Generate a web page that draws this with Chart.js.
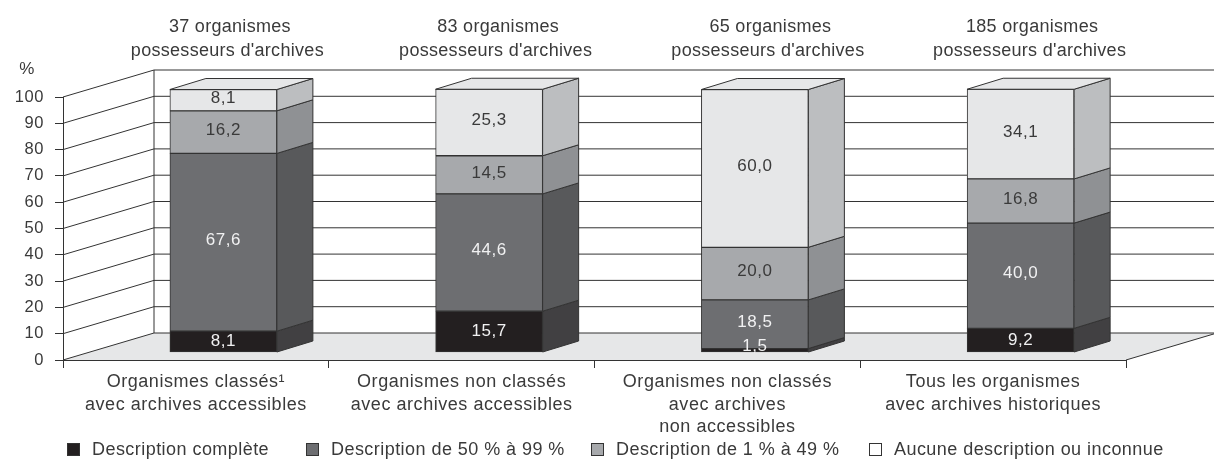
<!DOCTYPE html>
<html>
<head>
<meta charset="utf-8">
<script src="https://cdn.jsdelivr.net/npm/chart.js@4"></script>
<style>
    html, body { margin: 0; padding: 0; background: #fff; }
    canvas { display: block; }
</style>
</head>
<body>
<canvas id="archivesChart" width="1214" height="459"></canvas>
<script>
var categories = [
    ['Organismes classés¹', 'avec archives accessibles'],
    ['Organismes non classés', 'avec archives accessibles'],
    ['Organismes non classés', 'avec archives', 'non accessibles'],
    ['Tous les organismes', 'avec archives historiques']
];
var topLabels = ['37 organismes', '83 organismes', '65 organismes', '185 organismes'];
var topLabelLine2 = "possesseurs d'archives";
var complete = [8.1, 15.7, 1.5, 9.2];
var from50to99 = [67.6, 44.6, 18.5, 40.0];
var from1to49 = [16.2, 14.5, 20.0, 16.8];
var none = [8.1, 25.3, 60.0, 34.1];

var seriesNames = ['Description complète', 'Description de 50 % à 99 %', 'Description de 1 % à 49 %', 'Aucune description ou inconnue'];
var frontColors = ['#231f20', '#6d6e71', '#a7a9ac', '#e6e7e8'];
var sideColors = ['#414042', '#58595b', '#8f9194', '#bcbec0'];
var labelColors = ['#f1f1f2', '#f1f1f2', '#3a3a3a', '#3a3a3a'];
var legendFill = ['#231f20', '#6d6e71', '#a7a9ac', '#fff'];
var legendX = [67, 306, 591, 869];

var FAMILY = '"Liberation Sans", Arial, sans-serif';
var INK = '#333';
var TEXT = '#3a3a3a';

// the box sits this far in front of the back wall
var WALL_DX = 91, WALL_DY = -27;
var BAR_DX = 27.5, BAR_DY = -7.5;
var SIDE_DX = 36, SIDE_DY = -11;
// the captions above the bars are not evenly spaced in the source
var TOP_NUDGE = [4, 6.5, 13, 9];

var box3d = {
    id: 'box3d',
    // walls and floor
    beforeDraw: function (chart) {
        var ctx = chart.ctx, y = chart.scales.y, area = chart.chartArea;
        var x0 = area.left, x1 = area.right, yb = area.bottom;
        ctx.save();
        ctx.fillStyle = '#e6e7e8';
        ctx.beginPath();
        ctx.moveTo(x0, yb);
        ctx.lineTo(x1, yb);
        ctx.lineTo(x1 + WALL_DX, yb + WALL_DY);
        ctx.lineTo(x0 + WALL_DX, yb + WALL_DY);
        ctx.closePath();
        ctx.fill();

        ctx.strokeStyle = INK;
        ctx.lineWidth = 1;
        y.ticks.forEach(function (t) {
            var py = y.getPixelForValue(t.value);
            ctx.beginPath();
            ctx.moveTo(x0, py);
            ctx.lineTo(x0 + WALL_DX, py + WALL_DY);
            ctx.lineTo(1214, py + WALL_DY);
            ctx.stroke();
        });
        ctx.beginPath();
        ctx.moveTo(x0 + WALL_DX, yb + WALL_DY);
        ctx.lineTo(x0 + WALL_DX, area.top + WALL_DY);
        ctx.moveTo(x1, yb);
        ctx.lineTo(x1 + WALL_DX, yb + WALL_DY);
        ctx.stroke();
        ctx.restore();
        // axis labels inherit this, the reference type is set wide
        ctx.letterSpacing = '0.55px';
    },
    beforeDatasetsDraw: function (chart) {
        chart.ctx.save();
        chart.ctx.translate(BAR_DX, BAR_DY);
    },
    afterDatasetsDraw: function (chart) {
        var ctx = chart.ctx;
        var last = chart.data.datasets.length - 1;
        ctx.strokeStyle = INK;
        ctx.lineWidth = 1;
        chart.data.datasets.forEach(function (ds, i) {
            chart.getDatasetMeta(i).data.forEach(function (bar) {
                var right = bar.x + bar.width / 2, left = bar.x - bar.width / 2;
                ctx.fillStyle = sideColors[i];
                ctx.beginPath();
                ctx.moveTo(right, bar.y);
                ctx.lineTo(right + SIDE_DX, bar.y + SIDE_DY);
                ctx.lineTo(right + SIDE_DX, bar.base + SIDE_DY);
                ctx.lineTo(right, bar.base);
                ctx.closePath();
                ctx.fill();
                ctx.stroke();
                if (i === last) {
                    ctx.fillStyle = '#e6e7e8';
                    ctx.beginPath();
                    ctx.moveTo(left, bar.y);
                    ctx.lineTo(left + SIDE_DX, bar.y + SIDE_DY);
                    ctx.lineTo(right + SIDE_DX, bar.y + SIDE_DY);
                    ctx.lineTo(right, bar.y);
                    ctx.closePath();
                    ctx.fill();
                    ctx.stroke();
                }
            });
        });

        // values on the front faces
        ctx.font = '17px ' + FAMILY;
        ctx.textAlign = 'center';
        ctx.textBaseline = 'middle';
        chart.data.datasets.forEach(function (ds, i) {
            chart.getDatasetMeta(i).data.forEach(function (bar, j) {
                var mid = (bar.y + bar.base) / 2;
                // thin segments: text sits just above the strip
                var nudge = bar.base - bar.y < 10 ? -4 : (i > 0 ? -2 : 0);
                ctx.fillStyle = labelColors[i];
                ctx.fillText(ds.data[j].toFixed(1).replace('.', ','), bar.x, mid + nudge);
            });
        });
        ctx.restore();

        // organisme counts above the bars
        ctx.save();
        ctx.font = '18px ' + FAMILY;
        ctx.letterSpacing = '0.3px';
        ctx.textAlign = 'center';
        ctx.textBaseline = 'middle';
        ctx.fillStyle = TEXT;
        chart.getDatasetMeta(0).data.forEach(function (bar, j) {
            var cx = bar.x + BAR_DX + TOP_NUDGE[j];
            ctx.fillText(topLabels[j], cx + 2.5, 27);
            ctx.fillText(topLabelLine2, cx, 51);
        });
        ctx.restore();
    },
    afterDraw: function (chart) {
        var ctx = chart.ctx;
        ctx.save();
        ctx.font = '17px ' + FAMILY;
        ctx.fillStyle = TEXT;
        ctx.textBaseline = 'middle';
        ctx.textAlign = 'center';
        ctx.fillText('%', 27, 69);

        // legend
        ctx.font = '18px ' + FAMILY;
        ctx.letterSpacing = '0.45px';
        ctx.textAlign = 'left';
        seriesNames.forEach(function (name, i) {
            ctx.fillStyle = legendFill[i];
            ctx.strokeStyle = INK;
            ctx.fillRect(legendX[i], 443, 13, 13);
            ctx.strokeRect(legendX[i] + 0.5, 443.5, 12, 12);
            ctx.fillStyle = TEXT;
            ctx.fillText(name, legendX[i] + 25, 450);
        });
        ctx.restore();
    }
};

var series = [complete, from50to99, from1to49, none];

new Chart(document.getElementById('archivesChart').getContext('2d'), {
    type: 'bar',
    data: {
        labels: categories,
        datasets: series.map(function (values, i) {
            return {
                label: seriesNames[i],
                data: values,
                backgroundColor: frontColors[i],
                borderColor: INK,
                borderWidth: 1,
                borderSkipped: false,
                barThickness: 107,
                clip: false
            };
        })
    },
    options: {
        responsive: false,
        animation: false,
        layout: { padding: { left: 0, top: 97, right: 88, bottom: 0 } },
        plugins: { legend: { display: false }, tooltip: { enabled: false } },
        scales: {
            x: {
                stacked: true,
                afterFit: function (s) { s.height = 99; },
                grid: { drawOnChartArea: false, color: INK, tickLength: 8 },
                border: { color: INK },
                ticks: {
                    color: TEXT,
                    autoSkip: false,
                    maxRotation: 0,
                    padding: 3,
                    font: { family: FAMILY, size: 18, lineHeight: 1.25 }
                }
            },
            y: {
                stacked: true,
                min: 0,
                max: 100,
                afterFit: function (s) { s.width = 63; },
                grid: { drawOnChartArea: false, color: INK, tickLength: 8 },
                border: { color: INK },
                ticks: {
                    stepSize: 10,
                    color: TEXT,
                    padding: 11,
                    font: { family: FAMILY, size: 16.5 }
                }
            }
        }
    },
    plugins: [box3d]
});
</script>
</body>
</html>
